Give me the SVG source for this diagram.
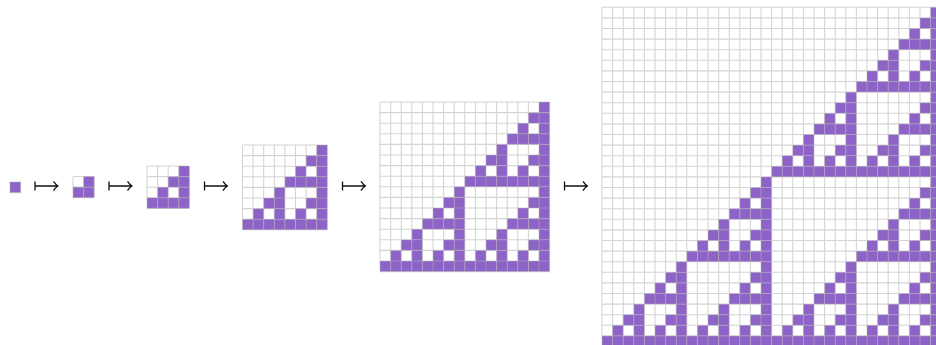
<svg xmlns="http://www.w3.org/2000/svg" xmlns:xlink="http://www.w3.org/1999/xlink" width="936" height="345" viewBox="0 0 936 345">
<style>
.cell{fill:#8d63c8}
.grid{fill:none;stroke:#b0b0b0;stroke-opacity:.55;stroke-width:.1}
.arrow{fill:none;stroke:#111;stroke-width:1.3;stroke-linecap:butt;stroke-linejoin:round}
</style>
<defs>
<rect id="s0" width="1" height="1" class="cell"/>
<g id="s1"><use href="#s0" x="1"/><use href="#s0" y="1"/><use href="#s0" x="1" y="1"/></g>
<g id="s2"><use href="#s1" x="2"/><use href="#s1" y="2"/><use href="#s1" x="2" y="2"/></g>
<g id="s3"><use href="#s2" x="4"/><use href="#s2" y="4"/><use href="#s2" x="4" y="4"/></g>
<g id="s4"><use href="#s3" x="8"/><use href="#s3" y="8"/><use href="#s3" x="8" y="8"/></g>
<g id="s5"><use href="#s4" x="16"/><use href="#s4" y="16"/><use href="#s4" x="16" y="16"/></g>
<path id="mapsto" class="arrow" d="M0 -4.6V4.6M0 0H23M18.5 -4.6Q20.5 -1.6 23 0Q20.5 1.6 18.5 4.6"/>
</defs>
<rect width="936" height="345" fill="#fff"/>
<g id="stage0" transform="translate(10,182) scale(10.6)">
<use href="#s0"/>
<path class="grid" d="M0 0H1V1H0Z"/>
</g>
<g id="stage1" transform="translate(73,176.5) scale(10.6)">
<use href="#s1"/>
<path class="grid" d="M0 0V2M1 0V2M2 0V2M0 0H2M0 1H2M0 2H2"/>
</g>
<g id="stage2" transform="translate(147,166) scale(10.6)">
<use href="#s2"/>
<path class="grid" d="M0 0V4M1 0V4M2 0V4M3 0V4M4 0V4M0 0H4M0 1H4M0 2H4M0 3H4M0 4H4"/>
</g>
<g id="stage3" transform="translate(242.5,145) scale(10.6)">
<use href="#s3"/>
<path class="grid" d="M0 0V8M1 0V8M2 0V8M3 0V8M4 0V8M5 0V8M6 0V8M7 0V8M8 0V8M0 0H8M0 1H8M0 2H8M0 3H8M0 4H8M0 5H8M0 6H8M0 7H8M0 8H8"/>
</g>
<g id="stage4" transform="translate(380,102) scale(10.6)">
<use href="#s4"/>
<path class="grid" d="M0 0V16M1 0V16M2 0V16M3 0V16M4 0V16M5 0V16M6 0V16M7 0V16M8 0V16M9 0V16M10 0V16M11 0V16M12 0V16M13 0V16M14 0V16M15 0V16M16 0V16M0 0H16M0 1H16M0 2H16M0 3H16M0 4H16M0 5H16M0 6H16M0 7H16M0 8H16M0 9H16M0 10H16M0 11H16M0 12H16M0 13H16M0 14H16M0 15H16M0 16H16"/>
</g>
<g id="stage5" transform="translate(602,7.3) scale(10.6)">
<use href="#s5"/>
<path class="grid" d="M0 0V32M1 0V32M2 0V32M3 0V32M4 0V32M5 0V32M6 0V32M7 0V32M8 0V32M9 0V32M10 0V32M11 0V32M12 0V32M13 0V32M14 0V32M15 0V32M16 0V32M17 0V32M18 0V32M19 0V32M20 0V32M21 0V32M22 0V32M23 0V32M24 0V32M25 0V32M26 0V32M27 0V32M28 0V32M29 0V32M30 0V32M31 0V32M32 0V32M0 0H32M0 1H32M0 2H32M0 3H32M0 4H32M0 5H32M0 6H32M0 7H32M0 8H32M0 9H32M0 10H32M0 11H32M0 12H32M0 13H32M0 14H32M0 15H32M0 16H32M0 17H32M0 18H32M0 19H32M0 20H32M0 21H32M0 22H32M0 23H32M0 24H32M0 25H32M0 26H32M0 27H32M0 28H32M0 29H32M0 30H32M0 31H32M0 32H32"/>
</g>
<g id="connectors">
<use href="#mapsto" x="35" y="186"/>
<use href="#mapsto" x="109" y="186"/>
<use href="#mapsto" x="204.5" y="186"/>
<use href="#mapsto" x="342.5" y="186"/>
<use href="#mapsto" x="564.5" y="186"/>
</g>
</svg>
